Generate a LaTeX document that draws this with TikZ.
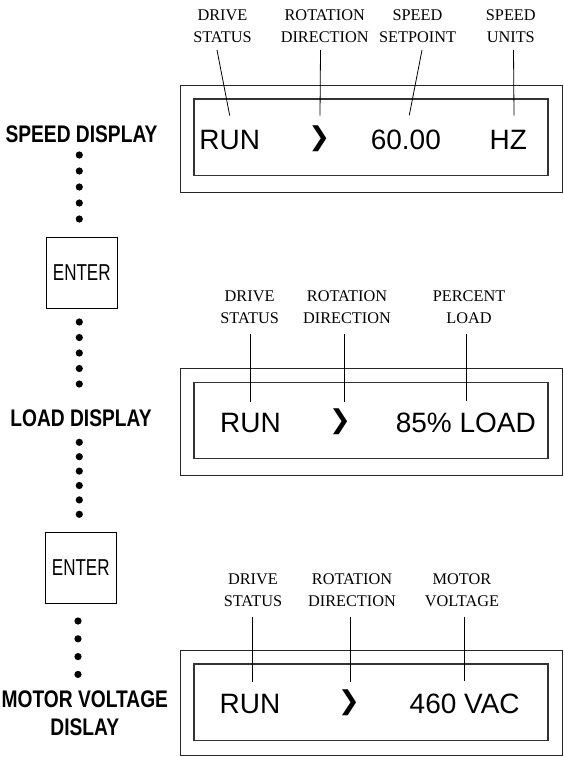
\documentclass[tikz,border=0pt]{standalone}
\usepackage{fontspec}
\setmainfont{Liberation Serif}
\setsansfont{Liberation Sans}
\newfontfamily\condbold[FakeStretch=0.8]{Liberation Sans Bold}
\newfontfamily\condreg[FakeStretch=0.74]{Liberation Sans}
\newfontfamily\chevfont{DejaVu Sans}
\usetikzlibrary{positioning}

\begin{document}
\begin{tikzpicture}[x=1pt, y=-1pt,
    lcd/.style={font=\sffamily\fontsize{28}{28}\selectfont, inner sep=0pt, anchor=base},
    chev/.style={font=\chevfont\fontsize{26}{26}\selectfont, inner sep=0pt},
    tag/.style={font=\fontsize{16.3}{22}\selectfont, align=center, inner sep=0pt, anchor=south},
    mode/.style={font=\condbold\fontsize{24}{27.7}\selectfont, align=center, inner sep=0pt, anchor=south},
    enterkey/.style={draw, line width=0.8pt, minimum width=71.7pt, minimum height=71pt,
        font=\condreg\fontsize{23}{23}\selectfont, inner sep=0pt},
    panel/.style={line width=0.8pt, black!85},
    screen/.style={line width=1.1pt, black!80},
    leader/.style={line width=0.8pt}]
    \useasboundingbox (0,0) rectangle (563,757);

    % Display panels
    \foreach \top/\hgt in {85/107,368.3/107.5,650/105.8}{
        \draw[panel] (180,\top) rectangle (562,\top+\hgt);
        \draw[screen] (194,\top+14) rectangle (548,\top+90.5);
    }

    % Speed display
    \node[lcd] (run1) at (229.7,149.3) {RUN};
    \node[chev] (dir1) at (319.3,138.8) {❯};
    \node[lcd] (set1) at (405.8,149.3) {60.00};
    \node[lcd] (unit1) at (508.3,149.3) {HZ};
    \node[tag] (stat1) at (222.5,43.3) {DRIVE\\STATUS};
    \node[tag] (rot1) at (324.7,43.3) {ROTATION\\DIRECTION};
    \node[tag] (spt1) at (417.5,43.3) {SPEED\\SETPOINT};
    \node[tag] (spu1) at (510.8,43.3) {SPEED\\UNITS};
    \draw[leader] ([xshift=-5.5pt,yshift=-6.7pt]stat1.south) -- ([yshift=14.3pt]run1.north);
    \draw[leader] ([xshift=-4.2pt,yshift=-6.7pt]rot1.south) -- ([xshift=0.7pt,yshift=14.3pt]run1.north-|dir1.north);
    \draw[leader] ([xshift=4.5pt,yshift=-6.7pt]spt1.south) -- ([xshift=3.5pt,yshift=14.3pt]set1.north);
    \draw[leader] ([xshift=2.7pt,yshift=-6.7pt]spu1.south) -- ([xshift=5.7pt,yshift=14.3pt]unit1.north);

    % Load display
    \node[lcd] (run2) at (250.5,432.7) {RUN};
    \node[chev] (dir2) at (340,422.2) {❯};
    \node[lcd] (pct2) at (465.8,432.7) {85\% LOAD};
    \node[tag] (stat2) at (249.6,324) {DRIVE\\STATUS};
    \node[tag] (rot2) at (347,324) {ROTATION\\DIRECTION};
    \node[tag] (pld2) at (469,324) {PERCENT\\LOAD};
    \draw[leader] ([xshift=0.4pt,yshift=-10pt]stat2.south) -- ([xshift=-0.5pt,yshift=11.7pt]run2.north);
    \draw[leader] ([xshift=-2.7pt,yshift=-10pt]rot2.south) -- ([xshift=4.3pt,yshift=11.7pt]run2.north-|dir2.north);
    \draw[leader] ([xshift=-2.3pt,yshift=-10pt]pld2.south) -- ([xshift=0.9pt,yshift=11.7pt]pct2.north);

    % Motor voltage display
    \node[lcd] (run3) at (250,713.3) {RUN};
    \node[chev] (dir3) at (349,702.8) {❯};
    \node[lcd] (vac3) at (464.7,713.3) {460 VAC};
    \node[tag] (stat3) at (253,607) {DRIVE\\STATUS};
    \node[tag] (rot3) at (352,607) {ROTATION\\DIRECTION};
    \node[tag] (mvl3) at (462,607) {MOTOR\\VOLTAGE};
    \draw[leader] ([xshift=-0.7pt,yshift=-10pt]stat3.south) -- ([xshift=2.3pt,yshift=12.3pt]run3.north);
    \draw[leader] ([xshift=-1.3pt,yshift=-10pt]rot3.south) -- ([xshift=1.7pt,yshift=12.3pt]run3.north-|dir3.north);
    \draw[leader] ([xshift=2pt,yshift=-10pt]mvl3.south) -- ([xshift=-0.7pt,yshift=12.3pt]vac3.north);

    % Mode column
    \node[mode] (spdmode) at (81.5,143) {SPEED DISPLAY};
    \node[enterkey] (ent1) at (81.8,272.8) {ENTER};
    \node[mode] (lodmode) at (81,427.3) {LOAD DISPLAY};
    \node[enterkey] (ent2) at (80.8,567.8) {ENTER};
    \node[mode] (motmode) at (84.8,736) {MOTOR VOLTAGE\\DISLAY};

    \foreach \y in {155,171,...,219} \fill (79.3,\y) circle (3.6);
    \foreach \y in {322,337.5,...,385} \fill (79.3,\y) circle (3.6);
    \foreach \y in {442.3,456.7,...,515} \fill (79.3,\y) circle (3.6);
    \foreach \y in {621,638.8,...,675} \fill (78,\y) circle (3.6);
\end{tikzpicture}
\end{document}
